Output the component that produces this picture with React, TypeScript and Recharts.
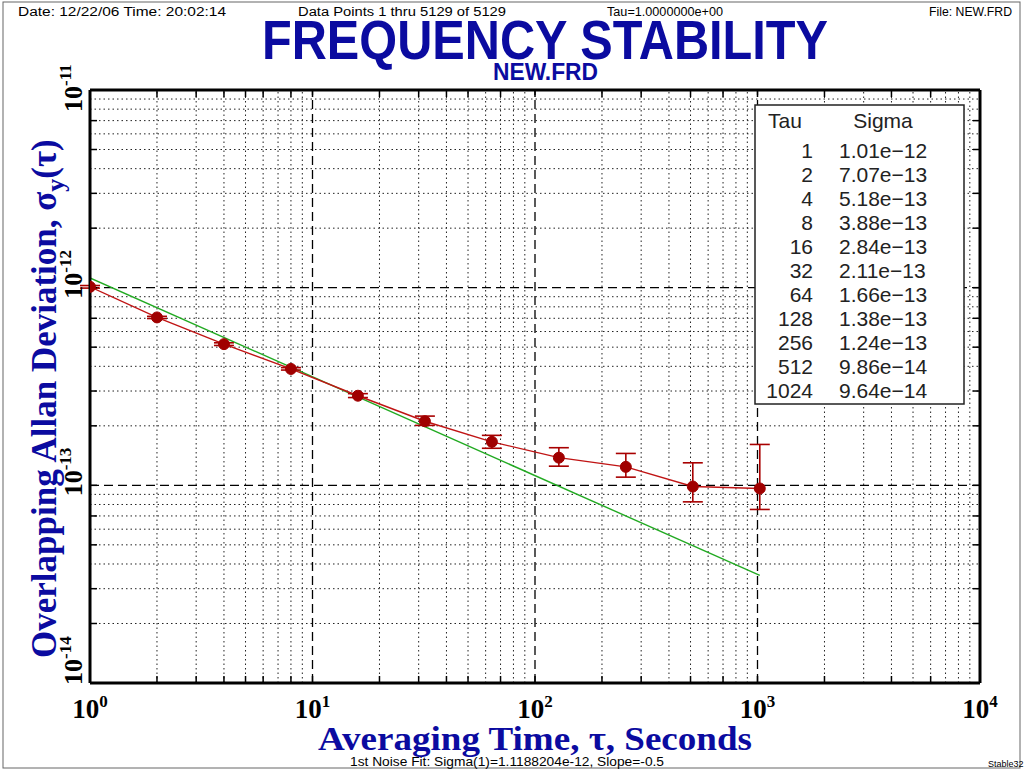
import React from "react"
import {
  ComposedChart,
  Line,
  XAxis,
  YAxis,
  ReferenceLine,
  ErrorBar,
} from "recharts"

const tau = [1, 2, 4, 8, 16, 32, 64, 128, 256, 512, 1024]
const sigma = [1.01e-12, 7.07e-13, 5.18e-13, 3.88e-13, 2.84e-13, 2.11e-13, 1.66e-13, 1.38e-13, 1.24e-13, 9.86e-14, 9.64e-14]
const sigmaLow = [0.995e-12, 6.98e-13, 5.1e-13, 3.83e-13, 2.78e-13, 2.01e-13, 1.54e-13, 1.25e-13, 1.1e-13, 8.25e-14, 7.55e-14]
const sigmaHigh = [1.025e-12, 7.16e-13, 5.26e-13, 3.94e-13, 2.91e-13, 2.24e-13, 1.79e-13, 1.55e-13, 1.45e-13, 1.3e-13, 1.61e-13]

// noise fit line end points
const fitTau = [1, 1024]
const fitSigma = [1.12e-12, 3.5e-14]

const xDecades = [1, 10, 100, 1000, 10000]
const yDecades = [1e-14, 1e-13, 1e-12, 1e-11]
const minorSteps = [2, 3, 4, 5, 6, 7, 8, 9]

const rows = tau.map((t, i) => {
  const f = fitTau.indexOf(t)
  return {
    tau: t,
    sigma: sigma[i],
    err: [sigma[i] - sigmaLow[i], sigmaHigh[i] - sigma[i]],
    fit: f >= 0 ? fitSigma[f] : null,
  }
})

const xMinor = xDecades.slice(0, -1).flatMap((d) => minorSteps.map((m) => m * d))
const yMinor = yDecades.slice(0, -1).flatMap((d) => minorSteps.map((m) => m * d))
const xAll = [...xDecades, ...xMinor].sort((a, b) => a - b)
const yAll = [...yDecades, ...yMinor].sort((a, b) => a - b)

const BLUE = "#0b0ba0"
const serif = "'Liberation Serif', 'Times New Roman', serif"
const sans = "'Liberation Sans', Arial, sans-serif"

const EmptyTick = () => <g />

function XTick({ x, y, payload }: any) {
  const exp = Math.round(Math.log10(payload.value))
  return (
    <text x={x} y={y + 35} textAnchor="middle" fontFamily={serif} fontWeight="bold" fontSize={27} fill="#000">
      10<tspan dy={-11} fontSize={17}>{exp}</tspan>
    </text>
  )
}

function YTick({ x, y, payload }: any) {
  const exp = Math.round(Math.log10(payload.value))
  const off = exp === -11 ? 22 : exp === -14 ? 2 : 11
  const ty = y + off
  return (
    <text x={x} y={ty} transform={`rotate(-90 ${x} ${ty})`} fontFamily={serif} fontWeight="bold" fontSize={26} fill="#000">
      10<tspan dy={-11} fontSize={17}>{exp}</tspan>
    </text>
  )
}

const fmtSigma = (v: number) => v.toExponential(2).replace("-", "\u2212")

export default function App() {
  return (
    <div style={{ position: "relative", width: 1024, height: 770, background: "#fff" }}>
      <style>{"body{margin:0}"}</style>
      <ComposedChart width={1024} height={770} data={rows} margin={{ top: 90, right: 44, left: 30, bottom: 47 }}>
        <XAxis
          xAxisId="x"
          dataKey="tau"
          type="number"
          scale="log"
          domain={[1, 10000]}
          allowDataOverflow
          ticks={xDecades}
          tick={<XTick />}
          tickLine={false}
          tickSize={0}
          tickMargin={0}
          height={40}
          axisLine={{ stroke: "#000", strokeWidth: 3 }}
        />
        <XAxis xAxisId="xb" dataKey="tau" type="number" scale="log" domain={[1, 10000]} allowDataOverflow mirror ticks={xAll} tick={EmptyTick} tickSize={7} tickLine={{ stroke: "#000", strokeWidth: 1.5 }} axisLine={false} />
        <XAxis xAxisId="xt" orientation="top" dataKey="tau" type="number" scale="log" domain={[1, 10000]} allowDataOverflow mirror ticks={xAll} tick={EmptyTick} tickSize={7} tickLine={{ stroke: "#000", strokeWidth: 1.5 }} axisLine={{ stroke: "#000", strokeWidth: 3 }} />
        <YAxis
          yAxisId="y"
          type="number"
          scale="log"
          domain={[1e-14, 1e-11]}
          allowDataOverflow
          ticks={yDecades}
          tick={<YTick />}
          tickLine={false}
          tickSize={0}
          tickMargin={8}
          width={60}
          axisLine={{ stroke: "#000", strokeWidth: 3 }}
        />
        <YAxis yAxisId="yl" type="number" scale="log" domain={[1e-14, 1e-11]} allowDataOverflow mirror ticks={yAll} tick={EmptyTick} tickSize={7} tickLine={{ stroke: "#000", strokeWidth: 1.5 }} axisLine={false} />
        <YAxis yAxisId="yr" orientation="right" type="number" scale="log" domain={[1e-14, 1e-11]} allowDataOverflow mirror ticks={yAll} tick={EmptyTick} tickSize={7} tickLine={{ stroke: "#000", strokeWidth: 1.5 }} axisLine={{ stroke: "#000", strokeWidth: 3 }} />

        {xMinor.map((v) => (
          <ReferenceLine key={"vx" + v} x={v} xAxisId="x" yAxisId="y" stroke="#222" strokeWidth={1} strokeDasharray="1.5 3" />
        ))}
        {yMinor.map((v) => (
          <ReferenceLine key={"hy" + v} y={v} xAxisId="x" yAxisId="y" stroke="#222" strokeWidth={1} strokeDasharray="1.5 3" />
        ))}
        {xDecades.slice(1, -1).map((v) => (
          <ReferenceLine key={"VX" + v} x={v} xAxisId="x" yAxisId="y" stroke="#000" strokeWidth={1.3} strokeDasharray="9 5" />
        ))}
        {yDecades.slice(1, -1).map((v) => (
          <ReferenceLine key={"HY" + v} y={v} xAxisId="x" yAxisId="y" stroke="#000" strokeWidth={1.3} strokeDasharray="9 5" />
        ))}

        <Line
          xAxisId="x"
          yAxisId="y"
          type="linear"
          dataKey="fit"
          connectNulls
          dot={false}
          stroke="#22aa22"
          strokeWidth={1.4}
          isAnimationActive={false}
        />
        <Line
          xAxisId="x"
          yAxisId="y"
          type="linear"
          dataKey="sigma"
          stroke="#c01414"
          strokeWidth={1.4}
          dot={{ r: 5.5, fill: "#a00000", stroke: "#a00000", strokeWidth: 1 }}
          isAnimationActive={false}
        >
          <ErrorBar dataKey="err" direction="y" width={10} stroke="#a80000" strokeWidth={1.6} />
        </Line>
      </ComposedChart>

      <svg width={1024} height={770} style={{ position: "absolute", left: 0, top: 0, pointerEvents: "none" }}>
        <rect x={3} y={2} width={1017} height={766} fill="none" stroke="#666" strokeWidth={1} />
        <g fontFamily={sans} fontSize={12} fill="#000">
          <text x={18} y={16} textLength={208} lengthAdjust="spacingAndGlyphs">Date: 12/22/06  Time: 20:02:14</text>
          <text x={298} y={16} textLength={208} lengthAdjust="spacingAndGlyphs">Data Points 1 thru 5129 of 5129</text>
          <text x={607} y={16} textLength={116} lengthAdjust="spacingAndGlyphs">Tau=1.0000000e+00</text>
          <text x={929} y={16} textLength={83} lengthAdjust="spacingAndGlyphs">File: NEW.FRD</text>
          <text x={350} y={766} textLength={314} lengthAdjust="spacingAndGlyphs">1st Noise Fit: Sigma(1)=1.1188204e-12, Slope=-0.5</text>
          <text x={988} y={767} fontSize={9}>Stable32</text>
        </g>
        <text x={262} y={59} fontFamily={sans} fontWeight="bold" fontSize={55} fill={BLUE} textLength={566} lengthAdjust="spacingAndGlyphs">
          FREQUENCY STABILITY
        </text>
        <text x={493} y={80} fontFamily={sans} fontWeight="bold" fontSize={24} fill={BLUE} textLength={105} lengthAdjust="spacingAndGlyphs">
          NEW.FRD
        </text>
        <text x={318} y={750} fontFamily={serif} fontWeight="bold" fontSize={34} fill={BLUE} textLength={434} lengthAdjust="spacingAndGlyphs">
          Averaging Time, τ, Seconds
        </text>
        <text x={56} y={658} transform="rotate(-90 56 658)" fontFamily={serif} fontWeight="bold" fontSize={35} fill={BLUE}>
          Overlapping Allan Deviation, σ<tspan dy={8} fontSize={26}>y</tspan>
          <tspan dy={-8}>(τ)</tspan>
        </text>

        <rect x={755} y={105} width={209} height={299} fill="#fff" stroke="#222" strokeWidth={1.5} />
        <g fontFamily={sans} fontSize={21} fill="#222">
          <text x={785} y={128} textAnchor="middle">Tau</text>
          <text x={883} y={128} textAnchor="middle">Sigma</text>
          {tau.map((t, i) => (
            <g key={t}>
              <text x={813} y={158 + 24 * i} textAnchor="end">{t}</text>
              <text x={839} y={158 + 24 * i}>{fmtSigma(sigma[i])}</text>
            </g>
          ))}
        </g>
      </svg>
    </div>
  )
}
